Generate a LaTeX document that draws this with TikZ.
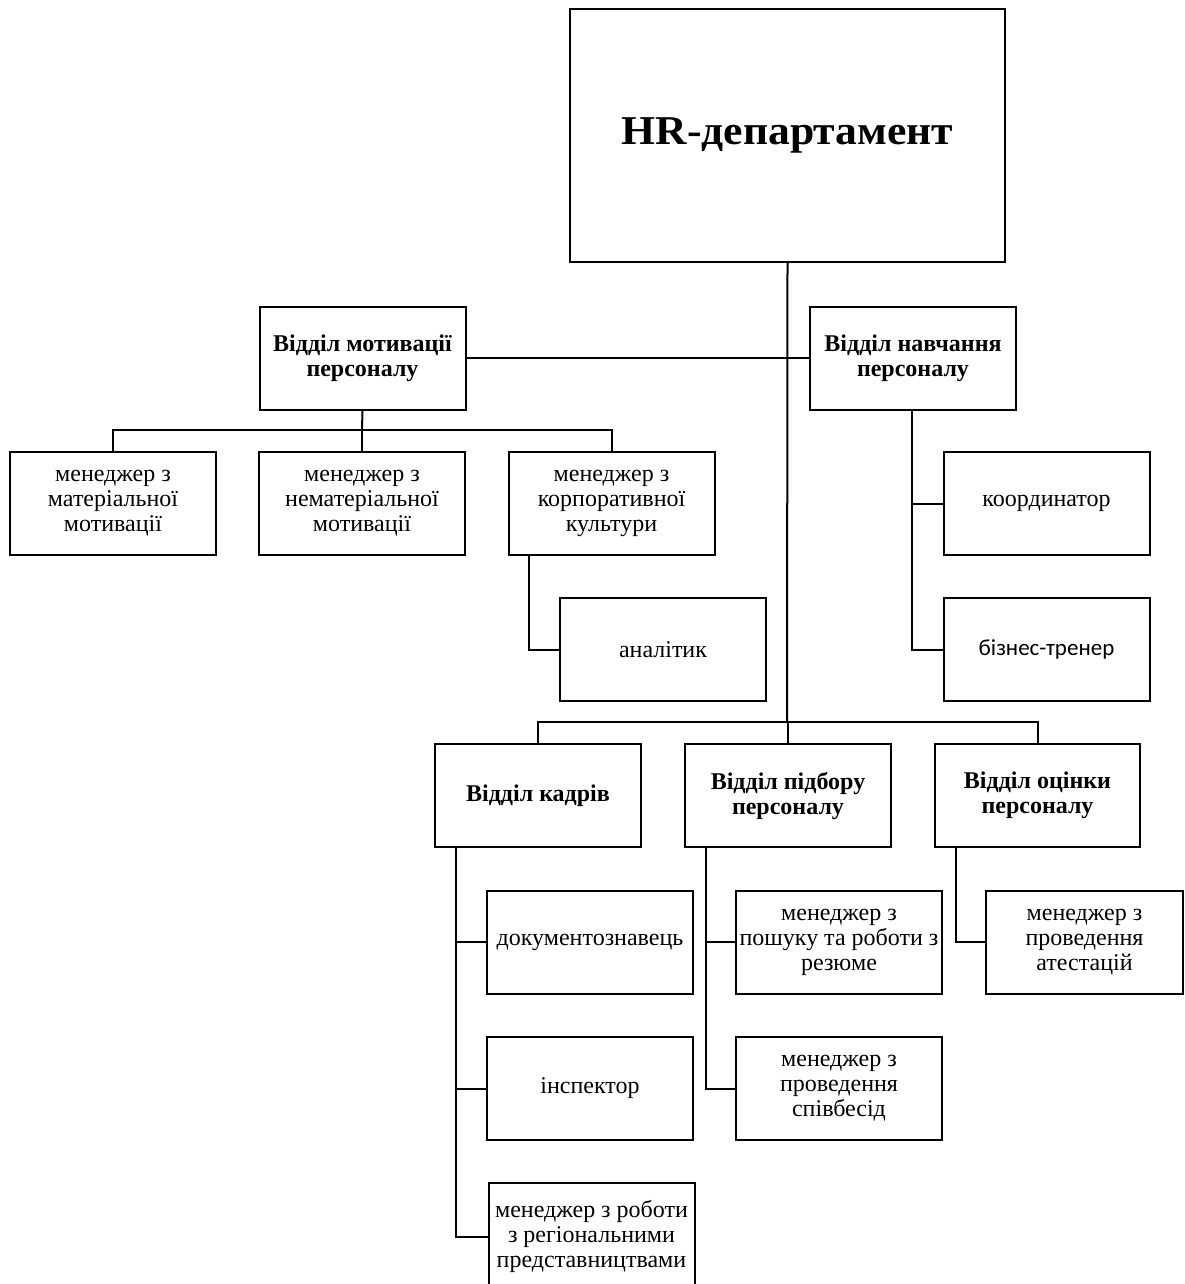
\documentclass[tikz,border=0pt]{standalone}
\usepackage{fontspec}
\setmainfont{Liberation Serif}
\newfontfamily\calfont{Carlito}
\begin{document}
\begin{tikzpicture}[x=1pt,y=-1pt,
  box/.style={draw, line width=2pt, inner sep=0pt, align=center,
    minimum width=206pt, minimum height=103pt,
    font=\fontsize{24}{25}\selectfont},
  head/.style={box, font=\fontsize{24}{25}\selectfont\bfseries},
  link/.style={line width=2pt}]
\clip (0,0) rectangle (1184,1284);

% top unit
\node[box, minimum width=435pt, minimum height=253pt] (hr) at (787.5,135.5)
  {\scalebox{1.12}[1.05]{\fontsize{39}{40}\selectfont\bfseries HR-департамент}};

% departments
\node[head] (mot)   at (362.5,358) {Відділ мотивації\\персоналу};
\node[head] (train) at (913,358)   {Відділ навчання\\персоналу};
\node[head] (kadr)  at (538,795.5) {Відділ кадрів};
\node[head] (pidb)  at (788,795.5) {Відділ підбору\\персоналу};
\node[head, minimum width=205pt] (ocin) at (1037.5,795.5) {Відділ оцінки\\персоналу};

% motivation staff
\node[box] (mat)   at (113,503.5)   {менеджер з\\матеріальної\\мотивації};
\node[box] (nemat) at (362,503.5)   {менеджер з\\нематеріальної\\мотивації};
\node[box] (corp)  at (611.5,503.5) {менеджер з\\корпоративної\\культури};
\node[box] (anal)  at (663,649.5)   {аналітик};

% training staff
\node[box] (coord) at (1046.5,503.5) {координатор};
\node[box, font=\fontsize{23}{25}\calfont] (biz) at (1046.5,649.5) {бізнес-тренер};

% personnel staff
\node[box] (doc)  at (590,942)    {документознавець};
\node[box] (insp) at (590,1088.5) {інспектор};
\node[box, minimum height=107pt] (reg) at (591.5,1236.5)
  {менеджер з роботи\\з регіональними\\представництвами};

% recruitment staff
\node[box] (pos)  at (839,942)    {менеджер з\\пошуку та роботи з\\резюме};
\node[box] (spiv) at (839,1088.5) {менеджер з\\проведення\\співбесід};

% assessment staff
\node[box, minimum width=197pt] (atest) at (1084.5,942) {менеджер з\\проведення\\атестацій};

% junction points
\coordinate (trunk) at (787,722);
\coordinate (mbar)  at (362,430);

% connectors
\draw[link] (hr.south) -- (trunk);
\draw[link] (mot.east) -- (train.west);
\draw[link] (mot.south) -- (mbar);
\draw[link] (mat.north) |- (mbar) -| (corp.north);
\draw[link] (nemat.north) -- (mbar);
\draw[link] ([xshift=-82.5pt]corp.south) |- (anal.west);
\draw[link] ([xshift=-1pt]train.south) |- (coord.west);
\draw[link] ([xshift=-1pt]train.south) |- (biz.west);
\draw[link] (kadr.north) |- (trunk) -| (ocin.north);
\draw[link] (pidb.north) -- (pidb.north |- trunk);
\draw[link] ([xshift=-82pt]kadr.south) |- (doc.west);
\draw[link] ([xshift=-82pt]kadr.south) |- (insp.west);
\draw[link] ([xshift=-82pt]kadr.south) |- (reg.west);
\draw[link] ([xshift=-82pt]pidb.south) |- (pos.west);
\draw[link] ([xshift=-82pt]pidb.south) |- (spiv.west);
\draw[link] ([xshift=-81.5pt]ocin.south) |- (atest.west);
\end{tikzpicture}
\end{document}
